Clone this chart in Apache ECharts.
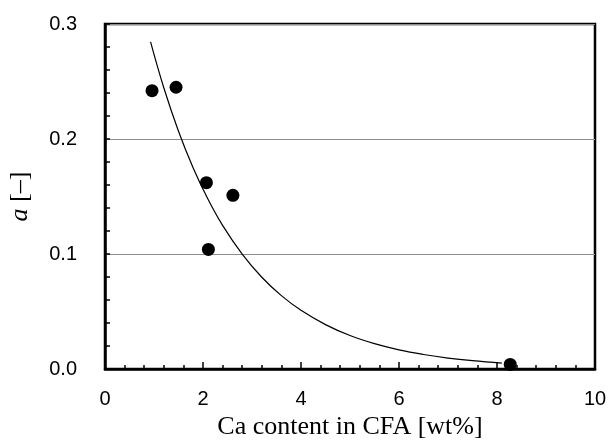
<!DOCTYPE html>
<html>
<head>
<meta charset="utf-8">
<script src="https://cdn.jsdelivr.net/npm/echarts@6/dist/echarts.min.js"></script>
<style>html,body{margin:0;padding:0;background:#fff}#c{width:608px;height:441px}</style>
</head>
<body>
<div id="c"></div>
<script>
// Measured points: Ca content [wt%] vs a [-]
const caContent = [0.96, 1.45, 2.07, 2.11, 2.61, 8.27];
const aValues   = [0.242, 0.245, 0.162, 0.104, 0.151, 0.004];
// Fitted curve
const curveX = [0.93, 1.2, 1.5, 1.8, 2.1, 2.4, 2.8, 3.2, 3.6, 4.0, 4.5, 5.0, 5.5, 6.0, 6.5, 7.0, 7.5, 8.1];
const curveY = [0.2845, 0.2446, 0.2068, 0.1748, 0.1478, 0.1249, 0.0999, 0.0798, 0.0638, 0.0510, 0.0386, 0.0291, 0.0220, 0.0166, 0.0126, 0.0095, 0.0072, 0.0051];
const xTicks = [0, 2, 4, 6, 8, 10];
const yTicks = ['0.0', '0.1', '0.2', '0.3'];

const chart = echarts.init(document.getElementById('c'), null, {renderer: 'canvas'});
chart.setOption({
  animation: false,
  backgroundColor: '#fff',
  grid: {left: 105, right: 13, top: 24, bottom: 72, containLabel: false, outerBoundsMode: 'none',
    show: true, borderColor: '#000', borderWidth: 2.5, backgroundColor: 'transparent'},
  xAxis: {
    type: 'value', min: 0, max: 10, interval: 2,
    name: 'Ca content in CFA [wt%]', nameLocation: 'middle', nameGap: 45,
    nameTextStyle: {fontFamily: 'Liberation Serif', fontSize: 26, color: '#000'},
    axisLine: {lineStyle: {color: '#000', width: 2.5}},
    axisTick: {inside: true, length: 7, lineStyle: {color: '#000', width: 1.5}},
    minorTick: {show: true, splitNumber: 5, length: 4, lineStyle: {color: '#000', width: 1.5}},
    axisLabel: {margin: 20, fontFamily: 'Liberation Sans', fontSize: 20, color: '#000',
      formatter: v => xTicks.includes(v) ? String(v) : ''},
    splitLine: {show: false}
  },
  yAxis: {
    type: 'value', min: 0, max: 0.3, interval: 0.1,
    name: '{i|a} [–]', nameLocation: 'middle', nameGap: 72,
    nameTextStyle: {fontFamily: 'Liberation Serif', fontSize: 26, color: '#000',
      rich: {i: {fontFamily: 'Liberation Serif', fontStyle: 'italic', fontSize: 26, color: '#000'}}},
    axisLine: {lineStyle: {color: '#000', width: 2.5}},
    axisTick: {inside: true, length: 5, lineStyle: {color: '#000', width: 1.5}},
    minorTick: {show: true, splitNumber: 5, length: 5, lineStyle: {color: '#000', width: 1.5}},
    axisLabel: {margin: 28, fontFamily: 'Liberation Sans', fontSize: 20, color: '#000',
      formatter: v => yTicks[Math.round(v * 10)]},
    splitLine: {show: true, lineStyle: {color: '#8c8c8c', width: 1}}
  },
  series: [
    {
      type: 'line', data: curveX.map((x, i) => [x, curveY[i]]),
      smooth: 0.4, symbol: 'none', lineStyle: {color: '#000', width: 1.2}, z: 2
    },
    {
      type: 'scatter', data: caContent.map((x, i) => [x, aValues[i]]),
      symbol: 'circle', symbolSize: 13, itemStyle: {color: '#000', opacity: 1}, z: 3
    }
  ]
});
</script>
</body>
</html>
